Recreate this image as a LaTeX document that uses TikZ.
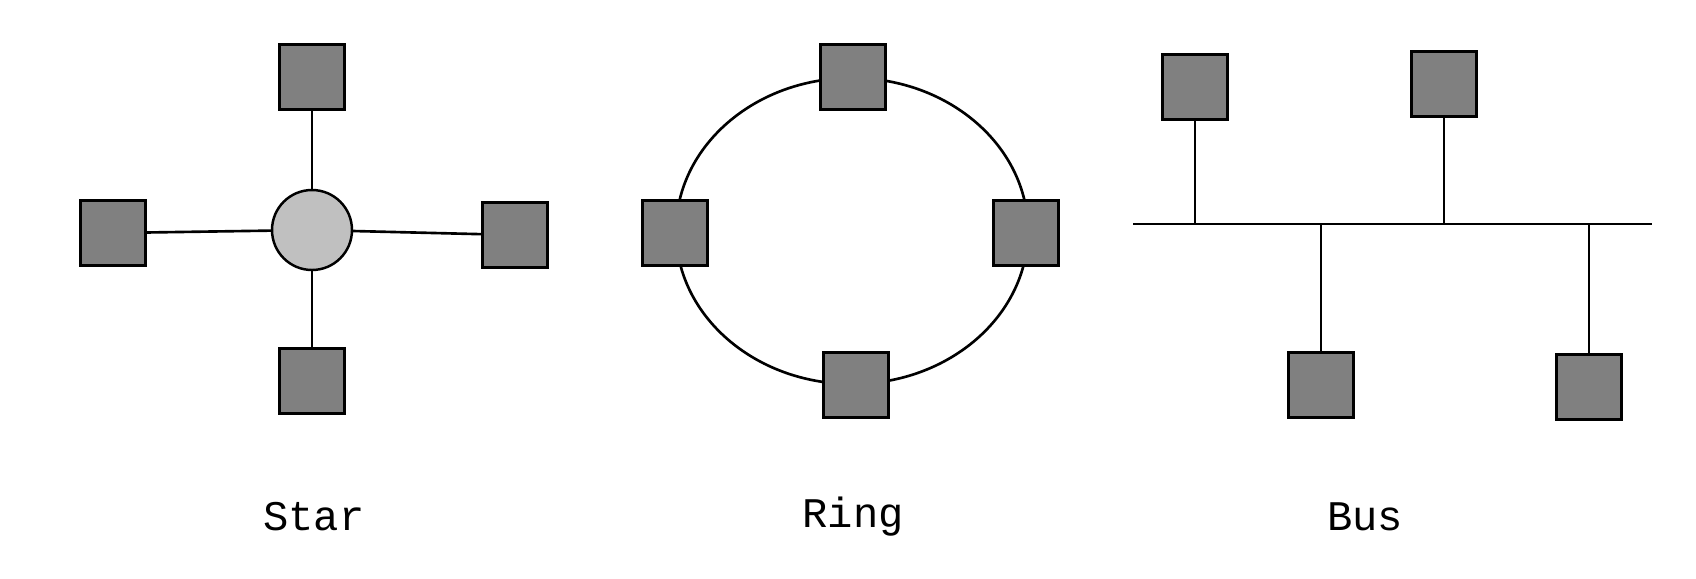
\documentclass[tikz,border=0pt]{standalone}
\usepackage{fontspec}
\setmonofont{Liberation Mono}
\begin{document}
\begin{tikzpicture}[x=0.02cm,y=-0.02cm,
  sq/.style={draw=black,fill=gray!100!white,fill opacity=1,minimum size=1.3cm,inner sep=0,line width=1.6pt,fill={rgb,255:red,128;green,128;blue,128}},
  hub/.style={circle,draw=black,fill={rgb,255:red,192;green,192;blue,192},minimum size=1.6cm,inner sep=0,line width=1.4pt},
  wire/.style={line width=1.5pt},
  lbl/.style={font=\ttfamily\fontsize{24}{28}\selectfont}]
\useasboundingbox (0,0) rectangle (1696,578);
% Star
\node[hub] (c) at (312,230) {};
\node[sq] (st) at (312,77) {};
\node[sq] (sl) at (113,233) {};
\node[sq] (sr) at (515,235) {};
\node[sq] (sb) at (312,381) {};
\draw[wire] (c) -- (st); \draw[wire] (c) -- (sb);
\draw[wire] (c) -- (sl); \draw[wire] (c) -- (sr);
\node[lbl] (l1) at (314,517) {Star};
% Ring
\draw[wire] (852,231) ellipse [x radius=176, y radius=153];
\node[sq] (rt) at (853,77) {};
\node[sq] (rl) at (675,233) {};
\node[sq] (rr) at (1026,233) {};
\node[sq] (rb) at (856,385) {};
\node[lbl] (l2) at (853,517) {Ring};
% Bus
\coordinate (b0) at (1133,224);
\coordinate (b1) at (1652,224);
\draw[wire] (b0) -- (b1);
\node[sq] (p1) at (1195,87) {};
\node[sq] (p2) at (1444,84) {};
\node[sq] (p3) at (1321,385) {};
\node[sq] (p4) at (1589,387) {};
\draw[wire] (p1) -- (p1 |- b0);
\draw[wire] (p2) -- (p2 |- b0);
\draw[wire] (p3) -- (p3 |- b0);
\draw[wire] (p4) -- (p4 |- b0);
\node[lbl] (l3) at (1365,517) {Bus};
\end{tikzpicture}
\end{document}
